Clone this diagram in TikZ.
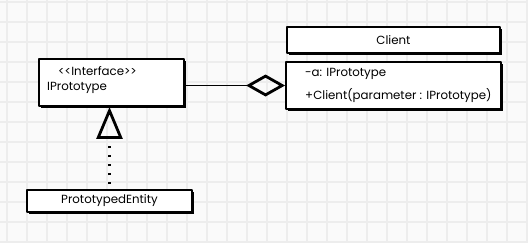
\documentclass[tikz,border=0pt]{standalone}
\usepackage{fontspec}
\setmainfont{Poppins}
\usetikzlibrary{arrows.meta,shadows}
\begin{document}
\begin{tikzpicture}[x=1pt,y=-1pt,line join=round]
	\tikzset{
	umlbox/.style={draw,line width=1.9pt,fill=white,rectangle,inner sep=0pt,
		drop shadow={shadow xshift=2pt,shadow yshift=-2pt,opacity=1,fill=black}},
	txt/.style={font=\fontsize{11.8}{13}\selectfont,inner sep=0pt},
	}
	\useasboundingbox (0,0) rectangle (528,242);
	%nền lưới
	\fill[black!2] (0,0) rectangle (528,242);
	\foreach \x in {7,27,...,527} \draw[black!7,line width=1.5pt] (\x,0)--(\x,242);
	\foreach \y in {2,22,...,242} \draw[black!7,line width=1.5pt] (0,\y)--(528,\y);
	%các hộp
	\node (iface) at (111.5,82.5) [umlbox,minimum width=145pt,minimum height=47pt]{};
	\node (stereo) at (58,71) [txt,anchor=west]{<\kern0pt<Interface>\kern0pt>};
	\node (ifacename) at (47,88) [txt,anchor=west]{IPrototype};
	\node (entity) at (109.5,201) [umlbox,txt,minimum width=165pt,minimum height=22pt]{PrototypedEntity};
	\node (clienthead) at (393.5,40) [umlbox,txt,minimum width=213pt,minimum height=26pt]{Client};
	\node (clientbody) at (393.5,85.5) [umlbox,minimum width=215pt,minimum height=47pt]{};
	\node (attr) at (305,74) [txt,anchor=west]{-a: IPrototype};
	\node (ctor) at (305,96) [txt,anchor=west]{+Client(parameter : IPrototype)};
	%nối
	\draw[line width=1.3pt,-{Diamond[open,length=39pt,width=22pt,line width=2.8pt]}]
		(iface.east |- clientbody.west)--(clientbody.west);
	\draw[line width=2.2pt,dash pattern=on 2.2pt off 6.8pt,shorten <=5pt,
		-{Triangle[open,length=32pt,width=26pt,line width=2.8pt]}]
		(entity.north)--(entity.north |- iface.south);
\end{tikzpicture}
\end{document}
